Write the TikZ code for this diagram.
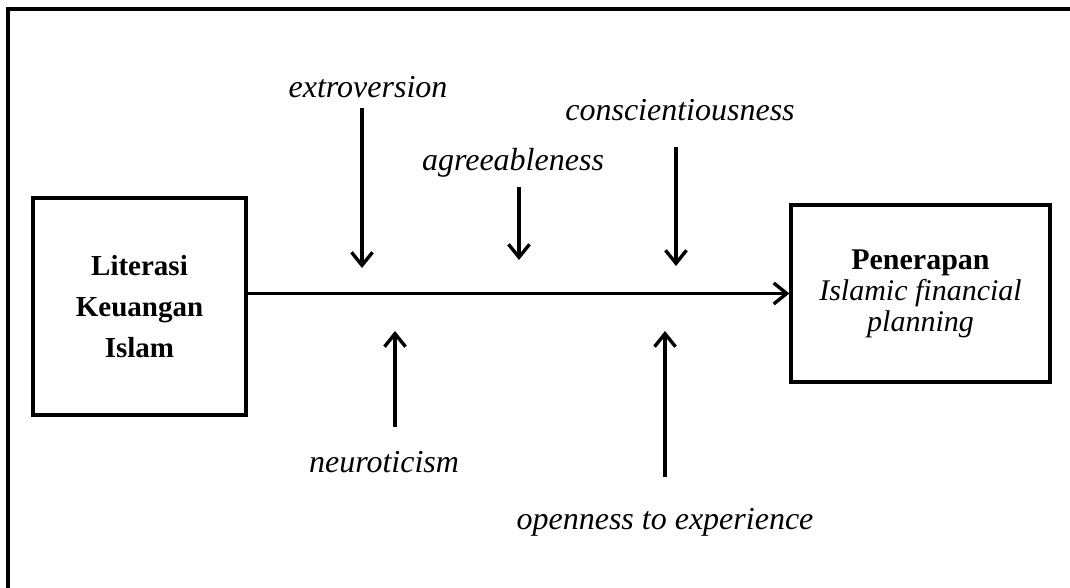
\documentclass[tikz,border=0pt]{standalone}
\usepackage{fontspec}
\setmainfont{Liberation Serif}
\usetikzlibrary{arrows.meta}
\begin{document}
\begin{tikzpicture}[x=1pt,y=-1pt,
  boxnode/.style={draw,line width=3.2pt,rectangle,align=center,inner sep=0pt},
  lbl/.style={font=\fontsize{32}{38}\selectfont\itshape,inner sep=0pt},
  arr/.style={line width=3.4pt,-{Straight Barb[length=13pt,width=21pt,line width=3.4pt]}}]
\useasboundingbox (0,0) rectangle (1070,588);
\draw[line width=3.6pt] (8,590) -- (8,9) -- (1072,9);
\node[boxnode,minimum width=213pt,minimum height=217pt,font=\fontsize{29}{41}\selectfont\bfseries] (L) at (139.5,306.5) {Literasi\\Keuangan\\Islam};
\node[boxnode,minimum width=259pt,minimum height=177pt,font=\fontsize{30}{31}\selectfont] (R) at (920.5,293.5) {\textbf{Penerapan}\\\textit{Islamic financial}\\\textit{planning}};
\draw[arr] (L.east |- R.west) -- (R.west);
\node[lbl] (ext) at (368,87) {extroversion};
\node[lbl] (agr) at (513,163) {agreeableness};
\node[lbl] (con) at (680,110) {conscientiousness};
\node[lbl] (neu) at (384,462) {neuroticism};
\node[lbl] (ope) at (665,522) {openness to experience};
\coordinate (e1) at (362,108); \coordinate (e2) at (362,268);
\coordinate (a1) at (519,187); \coordinate (a2) at (519,260);
\coordinate (c1) at (676,147); \coordinate (c2) at (676,266);
\coordinate (n1) at (395,427); \coordinate (n2) at (395,331);
\coordinate (o1) at (665,477); \coordinate (o2) at (665,331);
\draw[arr] (e1) -- (e2);
\draw[arr] (a1) -- (a2);
\draw[arr] (c1) -- (c2);
\draw[arr] (n1) -- (n2);
\draw[arr] (o1) -- (o2);
\end{tikzpicture}
\end{document}
